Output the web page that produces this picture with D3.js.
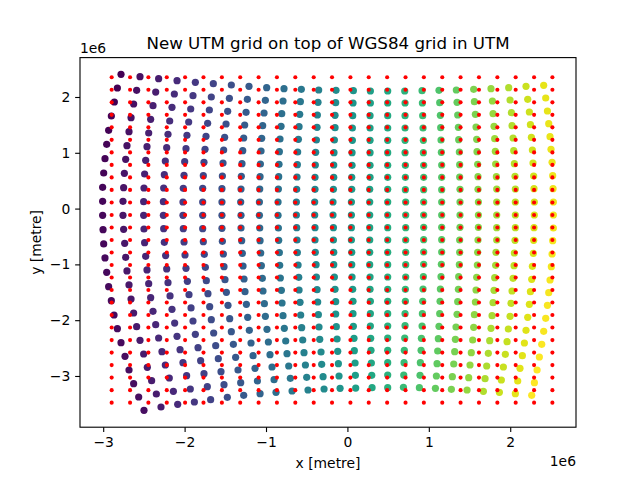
<!DOCTYPE html>
<html><head><meta charset="utf-8">
<script src="https://cdn.jsdelivr.net/npm/d3@7"></script>
<style>html,body{margin:0;padding:0;background:#fff}svg{display:block}text{font-family:"DejaVu Sans";fill:#000}</style>
</head><body><svg id="c" width="640" height="480"></svg>
<script>
// All positions in kilometres (1e3 m); axis shows units of 1e6 m.
const titleText = "New UTM grid on top of WGS84 grid in UTM";
const xLabel = "x [metre]", yLabel = "y [metre]", offsetText = "1e6";
const xTicks = [-3000,-2000,-1000,0,1000,2000];
const yTicks = [2000,1000,0,-1000,-2000,-3000];
const tickNames = {"-3000":"\u22123","-2000":"\u22122","-1000":"\u22121","0":"0","1000":"1","2000":"2"};
const xDomain = [-3285,2808], yDomain = [-3918,2706];

const gridX = [-2896,-2670,-2445,-2219,-1994,-1768,-1542,-1317,-1091,-866,-640,-414,-189,37,262,488,714,939,1165,1390,1616,1842,2067,2293,2518];
const gridY = [2353,2129,1904,1680,1456,1232,1007,783,559,335,110,-114,-338,-562,-787,-1011,-1235,-1460,-1684,-1908,-2132,-2357,-2581,-2805,-3029,-3254,-3478];
const columnShade = [0,25,50,75,100,125,150,175,200,225,250,275,300,325,350,375,400,425,450,475,500,525,550,575,600];
const rowShade = [0,1,2,3,4,5,6,7,8,9,10,11,12,13,14,15,16,17,18,19,20,21,22,23,24];
const shadeDomain = [0,624];

const pointsX = [
[-2781,-2548,-2319,-2093,-1868,-1647,-1426,-1209,-992,-779,-566,-353,-140,73,282,495,704,917,1125,1338,1551,1764,1981,2194,2411],
[-2826,-2589,-2355,-2126,-1897,-1672,-1450,-1229,-1008,-791,-578,-361,-144,69,282,495,708,921,1134,1347,1560,1781,1998,2215,2436],
[-2863,-2626,-2388,-2155,-1925,-1696,-1471,-1245,-1024,-807,-586,-369,-152,65,278,495,708,925,1142,1355,1572,1789,2014,2235,2457],
[-2900,-2658,-2417,-2183,-1950,-1717,-1491,-1262,-1041,-815,-594,-373,-152,61,278,495,708,929,1146,1363,1580,1801,2022,2248,2473],
[-2933,-2683,-2441,-2204,-1971,-1737,-1508,-1274,-1053,-828,-602,-381,-160,61,278,495,708,933,1150,1367,1588,1809,2035,2260,2489],
[-2957,-2708,-2462,-2220,-1983,-1749,-1520,-1286,-1061,-836,-611,-390,-165,57,278,495,708,933,1154,1375,1592,1817,2043,2272,2501],
[-2978,-2724,-2478,-2237,-1999,-1762,-1528,-1295,-1069,-840,-615,-394,-168,57,278,495,712,937,1158,1379,1600,1821,2051,2280,2514],
[-2994,-2740,-2491,-2249,-2007,-1770,-1536,-1303,-1073,-844,-619,-398,-168,53,278,495,712,937,1158,1379,1604,1830,2059,2288,2522],
[-3007,-2749,-2499,-2257,-2016,-1778,-1541,-1307,-1077,-848,-623,-398,-172,53,274,495,712,937,1158,1383,1604,1834,2063,2292,2526],
[-3007,-2757,-2503,-2261,-2020,-1778,-1541,-1311,-1081,-852,-627,-402,-177,49,274,495,716,937,1158,1383,1609,1834,2063,2296,2530],
[-3007,-2757,-2503,-2261,-2020,-1778,-1541,-1307,-1081,-852,-627,-402,-177,49,274,495,716,937,1158,1383,1609,1834,2063,2296,2530],
[-3002,-2749,-2499,-2257,-2016,-1778,-1541,-1307,-1077,-848,-623,-398,-172,49,274,495,716,937,1158,1383,1609,1834,2063,2292,2530],
[-2994,-2736,-2491,-2249,-2007,-1770,-1536,-1299,-1073,-844,-619,-398,-172,49,274,495,716,937,1158,1379,1604,1834,2059,2288,2522],
[-2978,-2724,-2478,-2233,-1995,-1758,-1524,-1291,-1065,-836,-615,-394,-168,53,274,495,716,937,1158,1379,1600,1825,2051,2284,2514],
[-2957,-2708,-2462,-2220,-1983,-1745,-1516,-1282,-1057,-832,-606,-385,-168,53,274,495,716,937,1154,1375,1596,1821,2047,2272,2505],
[-2933,-2683,-2441,-2204,-1966,-1733,-1504,-1270,-1045,-824,-598,-381,-160,57,278,495,716,933,1150,1367,1588,1809,2035,2264,2489],
[-2900,-2658,-2417,-2179,-1946,-1713,-1487,-1258,-1037,-811,-594,-373,-152,65,278,495,712,929,1142,1363,1580,1801,2022,2248,2473],
[-2867,-2626,-2388,-2155,-1921,-1692,-1467,-1241,-1020,-803,-582,-365,-144,69,282,495,712,925,1138,1355,1572,1789,2010,2235,2457],
[-2826,-2589,-2355,-2122,-1897,-1672,-1446,-1225,-1008,-791,-574,-357,-144,69,282,495,708,921,1134,1347,1560,1777,1998,2215,2436],
[-2781,-2548,-2319,-2093,-1868,-1643,-1426,-1205,-988,-775,-562,-349,-136,73,282,495,708,917,1125,1334,1551,1764,1977,2194,2411],
[-2732,-2503,-2278,-2056,-1835,-1618,-1401,-1184,-971,-758,-549,-340,-127,81,286,495,704,909,1117,1326,1539,1748,1961,2174,2387],
[-2683,-2458,-2237,-2020,-1803,-1586,-1373,-1159,-951,-742,-533,-324,-119,85,290,495,699,905,1109,1318,1522,1731,1940,2149,2358],
[-2626,-2405,-2188,-1975,-1762,-1553,-1344,-1135,-926,-721,-516,-316,-111,94,294,495,696,896,1101,1306,1506,1711,1916,2120,2330],
[-2564,-2347,-2138,-1930,-1721,-1516,-1311,-1106,-901,-701,-500,-299,-103,98,299,495,692,892,1093,1289,1490,1691,1891,2092,2297],
[-2499,-2290,-2085,-1880,-1680,-1475,-1274,-1073,-877,-680,-484,-287,-90,102,303,495,688,884,1081,1277,1470,1670,1867,2063,2264]
];
const pointsY = [
[2406,2364,2328,2293,2263,2239,2215,2191,2167,2149,2137,2125,2119,2113,2107,2107,2107,2113,2119,2125,2137,2149,2167,2191,2209],
[2161,2119,2089,2054,2024,2000,1976,1958,1940,1928,1916,1904,1898,1892,1892,1892,1892,1892,1898,1904,1916,1928,1946,1958,1982],
[1910,1874,1845,1815,1785,1767,1743,1725,1713,1701,1689,1677,1671,1665,1665,1665,1665,1665,1671,1677,1689,1701,1719,1731,1749],
[1659,1629,1600,1570,1552,1528,1516,1498,1486,1474,1468,1456,1450,1444,1444,1444,1444,1444,1450,1456,1462,1474,1486,1504,1522],
[1402,1379,1355,1331,1313,1295,1277,1265,1259,1247,1241,1229,1229,1223,1223,1223,1223,1223,1229,1235,1241,1253,1265,1277,1289],
[1152,1128,1110,1092,1074,1062,1050,1038,1032,1020,1014,1008,1002,1002,1002,1002,1002,1002,1008,1014,1020,1026,1038,1050,1062],
[895,883,865,853,841,829,817,805,799,793,787,781,781,775,775,775,775,775,781,787,793,799,805,817,829],
[638,632,620,608,596,590,584,578,572,572,566,560,560,560,560,560,560,560,560,566,572,572,578,584,590],
[381,375,369,369,363,363,357,351,351,351,345,345,345,345,345,345,339,339,339,345,345,351,351,357,357],
[130,130,124,124,118,118,118,118,118,118,118,118,118,118,118,118,118,118,118,118,118,118,118,118,118],
[-121,-121,-121,-121,-121,-121,-121,-121,-121,-121,-115,-115,-115,-115,-115,-115,-115,-115,-115,-115,-115,-115,-115,-115,-115],
[-378,-372,-366,-360,-360,-360,-354,-348,-348,-348,-342,-342,-342,-342,-342,-342,-342,-336,-336,-336,-336,-342,-342,-342,-348],
[-634,-622,-611,-605,-599,-593,-587,-575,-575,-569,-563,-563,-563,-563,-563,-563,-563,-557,-557,-563,-563,-563,-569,-569,-575],
[-885,-873,-855,-843,-832,-820,-814,-802,-796,-790,-790,-784,-784,-784,-784,-784,-784,-778,-778,-784,-784,-784,-796,-802,-814],
[-1142,-1118,-1100,-1082,-1071,-1053,-1041,-1029,-1023,-1017,-1011,-1005,-1005,-1005,-1005,-1005,-1005,-999,-999,-1005,-1011,-1017,-1023,-1035,-1041],
[-1399,-1369,-1345,-1327,-1304,-1292,-1274,-1262,-1250,-1244,-1232,-1226,-1226,-1226,-1226,-1226,-1226,-1220,-1220,-1220,-1232,-1238,-1250,-1268,-1280],
[-1650,-1620,-1596,-1566,-1542,-1525,-1501,-1489,-1477,-1465,-1459,-1453,-1447,-1447,-1447,-1447,-1447,-1441,-1441,-1447,-1459,-1465,-1477,-1489,-1507],
[-1907,-1871,-1841,-1805,-1781,-1758,-1734,-1716,-1704,-1692,-1680,-1674,-1668,-1662,-1662,-1662,-1662,-1662,-1662,-1668,-1674,-1686,-1698,-1716,-1734],
[-2152,-2116,-2080,-2051,-2015,-1991,-1973,-1949,-1931,-1919,-1907,-1901,-1889,-1883,-1883,-1883,-1883,-1883,-1883,-1895,-1901,-1919,-1931,-1949,-1967],
[-2403,-2361,-2319,-2290,-2254,-2230,-2206,-2182,-2164,-2146,-2134,-2122,-2116,-2110,-2104,-2104,-2098,-2104,-2110,-2122,-2128,-2146,-2158,-2182,-2200],
[-2648,-2606,-2564,-2529,-2493,-2457,-2433,-2409,-2391,-2373,-2355,-2343,-2337,-2325,-2325,-2319,-2319,-2325,-2331,-2343,-2355,-2367,-2385,-2409,-2433],
[-2893,-2845,-2803,-2762,-2726,-2690,-2666,-2636,-2618,-2600,-2582,-2570,-2558,-2546,-2540,-2540,-2540,-2540,-2552,-2564,-2582,-2594,-2612,-2636,-2660],
[-3138,-3084,-3036,-2994,-2959,-2923,-2893,-2863,-2839,-2821,-2803,-2791,-2779,-2767,-2767,-2762,-2762,-2762,-2779,-2785,-2803,-2821,-2839,-2863,-2893],
[-3377,-3323,-3275,-3233,-3192,-3156,-3120,-3090,-3066,-3042,-3024,-3012,-3000,-2989,-2989,-2983,-2983,-2989,-3000,-3012,-3030,-3048,-3072,-3090,-3120],
[-3616,-3556,-3508,-3466,-3425,-3383,-3347,-3317,-3293,-3269,-3251,-3233,-3222,-3216,-3210,-3210,-3204,-3210,-3222,-3239,-3251,-3275,-3293,-3317,-3347]
];

const plotLeft = 80, plotRight = 576, plotTop = 57.6, plotBottom = 427.2;
const svg = d3.select("#c");
const x = d3.scaleLinear().domain(xDomain).range([plotLeft, plotRight]);
const y = d3.scaleLinear().domain(yDomain).range([plotBottom, plotTop]);
const colour = d3.scaleSequential(d3.interpolateViridis).domain(shadeDomain);

const points = [];
pointsX.forEach((row, r) => row.forEach((vx, c) => points.push({vx, vy: pointsY[r][c], shade: columnShade[c] + rowShade[r]})));
svg.append("g").selectAll("circle").data(points).join("circle")
  .attr("cx", d => x(d.vx)).attr("cy", d => y(d.vy)).attr("r", 3.6)
  .attr("fill", d => colour(d.shade));

const grid = gridY.flatMap(vy => gridX.map(vx => ({vx, vy})));
svg.append("g").selectAll("circle").data(grid).join("circle")
  .attr("cx", d => x(d.vx)).attr("cy", d => y(d.vy)).attr("r", 2.05)
  .attr("fill", "#ff0000");

svg.append("rect").attr("x", plotLeft).attr("y", plotTop).attr("width", plotRight - plotLeft).attr("height", plotBottom - plotTop)
  .attr("fill", "none").attr("stroke", "#000").attr("stroke-width", 1.11);

const fmt = v => tickNames[String(v)];
const xAxis = svg.append("g").attr("transform", `translate(0,${plotBottom})`)
  .call(d3.axisBottom(x).tickValues(xTicks).tickFormat(fmt).tickSize(4.86).tickPadding(5.4));
const yAxis = svg.append("g").attr("transform", `translate(${plotLeft},0)`)
  .call(d3.axisLeft(y).tickValues(yTicks).tickFormat(fmt).tickSize(4.86).tickPadding(4.9));
[xAxis, yAxis].forEach(a => {
  a.select(".domain").remove();
  a.selectAll("line").attr("stroke", "#000").attr("stroke-width", 1.11);
  a.selectAll("text").attr("font-family", "DejaVu Sans").attr("font-size", 13.89).attr("fill", "#000");
});

const label = (t, px, py, size, anchor, rot) => {
  const n = svg.append("text").text(t).attr("x", px).attr("y", py)
    .attr("font-size", size).attr("text-anchor", anchor);
  if (rot) n.attr("transform", `rotate(-90,${px},${py})`);
};
label(titleText, 328, 49, 16.67, "middle");
label(xLabel, 328, 468, 13.89, "middle");
label(yLabel, 41, 242.4, 13.89, "middle", true);
label(offsetText, 80, 53, 13.89, "start");
label(offsetText, 576, 466, 13.89, "end");
</script></body></html>
